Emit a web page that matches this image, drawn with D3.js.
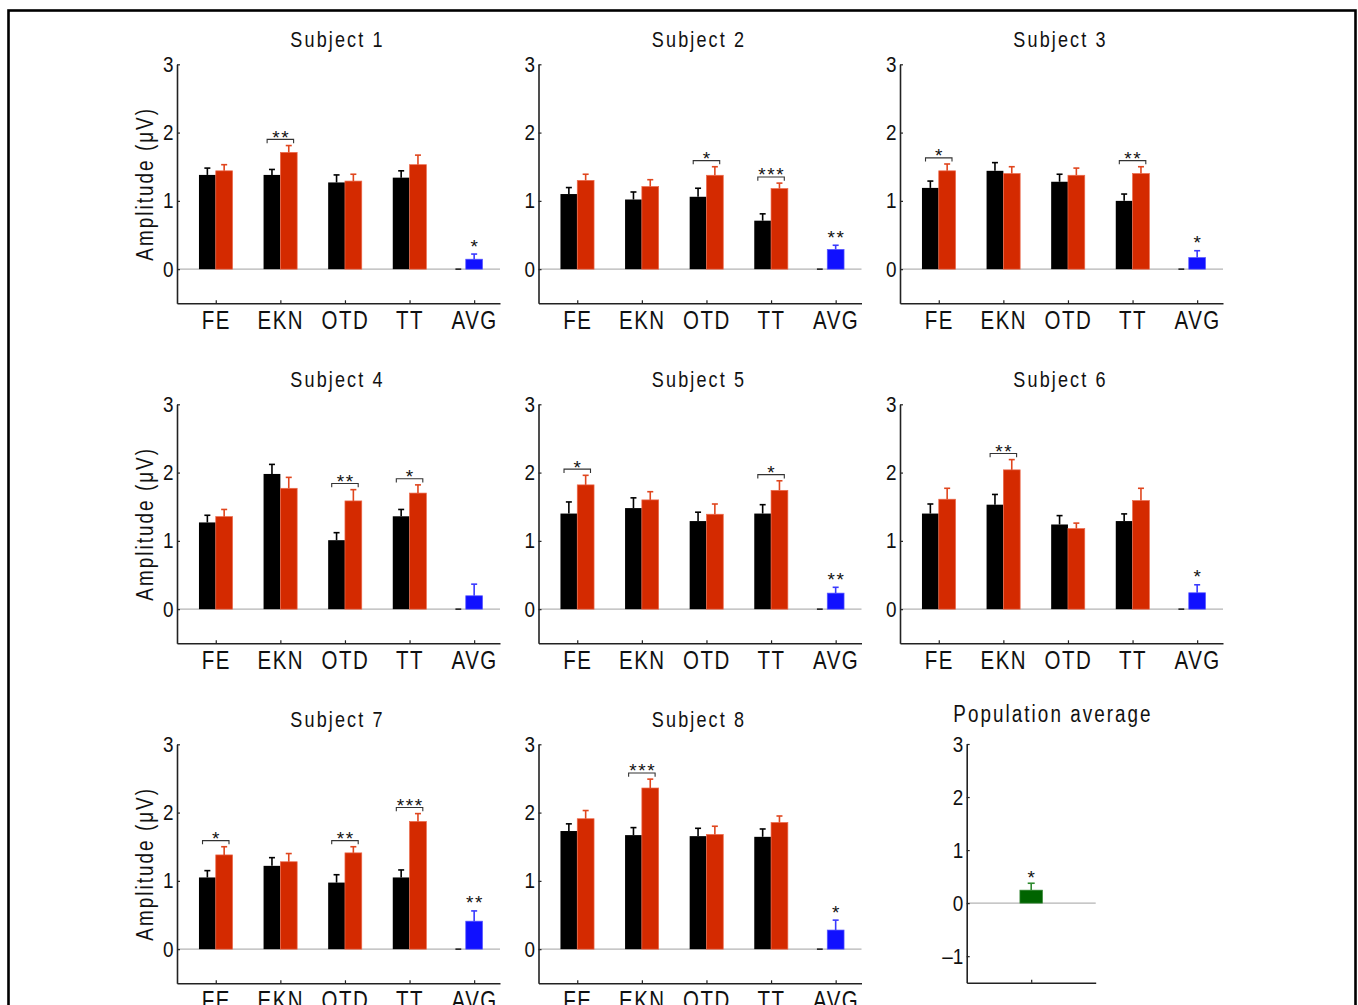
<!DOCTYPE html>
<html>
<head>
<meta charset="utf-8">
<script src="https://cdn.jsdelivr.net/npm/d3@7"></script>
<style>
  html, body { margin: 0; padding: 0; background: #fff; }
  svg { display: block; }
  text { font-family: "Liberation Sans", Arial, sans-serif; fill: #111; }
</style>
</head>
<body>
<svg id="chart" width="1358" height="1005"></svg>
<script>
// ---------------- DATA ----------------
const categories = ["FE", "EKN", "OTD", "TT", "AVG"];
const subjects = ["Subject 1", "Subject 2", "Subject 3", "Subject 4",
                  "Subject 5", "Subject 6", "Subject 7", "Subject 8"];
const yTicks = [0, 1, 2, 3];
const popTicks = [-1, 0, 1, 2, 3];

// condition A (black bars), per subject: FE, EKN, OTD, TT
const condA = [
  [1.38, 1.38, 1.27, 1.34],
  [1.10, 1.02, 1.06, 0.71],
  [1.19, 1.44, 1.28, 1.00],
  [1.27, 1.98, 1.01, 1.36],
  [1.40, 1.48, 1.29, 1.40],
  [1.40, 1.53, 1.24, 1.29],
  [1.05, 1.22, 0.975, 1.05],
  [1.73, 1.67, 1.655, 1.645]
];
const errA = [
  [0.10, 0.08, 0.11, 0.10],
  [0.095, 0.11, 0.125, 0.10],
  [0.10, 0.12, 0.11, 0.10],
  [0.105, 0.14, 0.11, 0.10],
  [0.17, 0.15, 0.13, 0.13],
  [0.14, 0.15, 0.13, 0.105],
  [0.10, 0.12, 0.115, 0.11],
  [0.105, 0.11, 0.115, 0.115]
];
// condition B (red bars)
const condB = [
  [1.44, 1.71, 1.29, 1.53],
  [1.30, 1.21, 1.375, 1.18],
  [1.44, 1.40, 1.375, 1.40],
  [1.355, 1.77, 1.585, 1.70],
  [1.82, 1.60, 1.39, 1.74],
  [1.61, 2.04, 1.18, 1.59],
  [1.38, 1.28, 1.41, 1.87],
  [1.91, 2.36, 1.68, 1.855]
];
const errB = [
  [0.09, 0.10, 0.10, 0.14],
  [0.09, 0.10, 0.125, 0.08],
  [0.10, 0.10, 0.105, 0.10],
  [0.105, 0.16, 0.165, 0.12],
  [0.14, 0.12, 0.15, 0.14],
  [0.16, 0.15, 0.08, 0.18],
  [0.12, 0.12, 0.09, 0.115],
  [0.12, 0.13, 0.12, 0.095]
];
// significance of A vs B per category
const sigAB = [
  ["", "**", "", ""],
  ["", "", "*", "***"],
  ["*", "", "", "**"],
  ["", "", "**", "*"],
  ["*", "", "", "*"],
  ["", "**", "", ""],
  ["*", "", "**", "***"],
  ["", "***", "", ""]
];
// AVG (blue) difference per subject
const avgDiff = [0.146, 0.29, 0.17, 0.196, 0.235, 0.24, 0.41, 0.28];
const avgErr  = [0.075, 0.06, 0.10, 0.17, 0.085, 0.117, 0.15, 0.145];
const avgSig  = ["*", "**", "*", "", "**", "*", "**", "*"];
// population average
const popMean = [0.245];
const popErr = [0.13];
const popSig = ["*"];
const popTitle = "Population average";
const yLabel = "Amplitude (\u03BCV)";

// ---------------- STYLE ----------------
const COL_A = "#000000", COL_B = "#d42a00", COL_AVG = "#1010ff", COL_POP = "#006400";
const ERR_A = "#000000", ERR_B = "#e0461e", ERR_AVG = "#3a3aff", ERR_POP = "#2e8b2e";
const AXIS = "#222";
const SX = 0.82; // horizontal condensation of the lettering

const svg = d3.select("#chart");

// outer frame
svg.append("rect").attr("x", 8.5).attr("y", 10.5).attr("width", 1347).attr("height", 1100)
  .attr("fill", "none").attr("stroke", "#000").attr("stroke-width", 2.6);

const colX = [177, 538.5, 900];
const rowTop = [64.3, 404.3, 744.3];
const PW = 323, PH = 239;

function styleAxis(g) {
  g.select(".domain").attr("stroke", AXIS).attr("stroke-width", 1.6);
  g.selectAll(".tick line").attr("stroke", AXIS).attr("stroke-width", 1.2);
}

function errorBar(g, x, y, cx, v, e, color, capHalf) {
  const px = x(cx);
  g.append("line").attr("x1", px).attr("x2", px).attr("y1", y(v)).attr("y2", y(v + e))
    .attr("stroke", color).attr("stroke-width", 1.6);
  g.append("line").attr("x1", px - capHalf).attr("x2", px + capHalf)
    .attr("y1", y(v + e)).attr("y2", y(v + e))
    .attr("stroke", color).attr("stroke-width", 1.6);
}

function stars(g, px, py, s) {
  // py = visual centre of the asterisks
  g.append("text").attr("x", px + 0.8).attr("y", py + 11)
    .attr("text-anchor", "middle").style("font-size", "19px")
    .style("letter-spacing", "1.6px")
    .text(s);
}

function condText(g, x, y, s, size, spacing, anchor) {
  return g.append("text")
    .attr("transform", `translate(${x},${y}) scale(${SX},1)`)
    .attr("text-anchor", anchor || "middle")
    .style("font-size", size + "px").style("letter-spacing", spacing + "px")
    .text(s);
}

subjects.forEach((name, si) => {
  const x0 = colX[si % 3], top = rowTop[Math.floor(si / 3)];
  const x = d3.scaleLinear().domain([0.4, 5.4]).range([x0, x0 + PW]);
  const y = d3.scaleLinear().domain([-0.5, 3]).range([top + PH, top]);
  const g = svg.append("g");
  const BW = 0.26;

  // zero line
  g.append("line").attr("x1", x(0.4)).attr("x2", x(5.4)).attr("y1", y(0)).attr("y2", y(0))
    .attr("stroke", "#b4b4b4").attr("stroke-width", 1.3);

  const idx = d3.range(4);
  // black bars
  g.selectAll(".barA").data(idx).join("rect")
    .attr("x", i => x(i + 1 - BW)).attr("width", x(BW) - x(0))
    .attr("y", i => y(condA[si][i])).attr("height", i => y(0) - y(condA[si][i]))
    .attr("fill", COL_A);
  // red bars
  g.selectAll(".barB").data(idx).join("rect")
    .attr("x", i => x(i + 1)).attr("width", x(BW) - x(0))
    .attr("y", i => y(condB[si][i])).attr("height", i => y(0) - y(condB[si][i]))
    .attr("fill", COL_B).attr("stroke", "#ec6a4c").attr("stroke-width", 0.7);

  const capHalf = 3;
  idx.forEach(i => {
    errorBar(g, x, y, i + 1 - BW / 2, condA[si][i], errA[si][i], ERR_A, capHalf);
    errorBar(g, x, y, i + 1 + BW / 2, condB[si][i], errB[si][i], ERR_B, capHalf);
    if (sigAB[si][i]) {
      const by = Math.max(condA[si][i] + errA[si][i], condB[si][i] + errB[si][i]) + 0.09;
      const xl = x(i + 1 - 0.205), xr = x(i + 1 + 0.205);
      const yb = y(by), yt = y(by - 0.055);
      g.append("path").attr("d", `M${xl},${yt}V${yb}H${xr}V${yt}`)
        .attr("fill", "none").attr("stroke", "#333").attr("stroke-width", 1.1);
      stars(g, x(i + 1), yb - 6.5, sigAB[si][i]);
    }
  });

  // AVG column: zero black bar and blue difference bar
  g.append("line").attr("x1", x(5 - 0.29)).attr("x2", x(5 - 0.2)).attr("y1", y(0)).attr("y2", y(0))
    .attr("stroke", "#222").attr("stroke-width", 1.6);
  g.append("rect").attr("x", x(5 - BW / 2)).attr("width", x(BW) - x(0))
    .attr("y", y(avgDiff[si])).attr("height", y(0) - y(avgDiff[si]))
    .attr("fill", COL_AVG).attr("stroke", "#5a5aff").attr("stroke-width", 0.7);
  errorBar(g, x, y, 5, avgDiff[si], avgErr[si], ERR_AVG, capHalf);
  if (avgSig[si]) stars(g, x(5), y(avgDiff[si] + avgErr[si]) - 12.5, avgSig[si]);

  // axes
  const ya = g.append("g").attr("transform", `translate(${x0},0)`)
    .call(d3.axisLeft(y).tickValues(yTicks).tickFormat(d3.format("d"))
      .tickSize(-3).tickSizeOuter(0).tickPadding(4));
  styleAxis(ya);
  ya.selectAll(".tick text").style("font-size", "22px").attr("fill", "#111")
    .attr("transform", "scale(0.86,1)");

  const xa = g.append("g").attr("transform", `translate(0,${y(-0.5)})`)
    .call(d3.axisBottom(x).tickValues([1, 2, 3, 4, 5]).tickFormat(d => categories[d - 1])
      .tickSize(-3).tickSizeOuter(0).tickPadding(8));
  styleAxis(xa);
  xa.selectAll(".tick text").style("font-size", "25px").style("letter-spacing", "1.8px")
    .attr("fill", "#111").attr("transform", `scale(${SX},1)`);

  // title
  condText(g, x0 + PW / 2 - 1, top - 17.6, name, 22, 2.6);

  // y label on first column
  if (si % 3 === 0) {
    g.append("text")
      .attr("transform", `translate(${x0 - 24},${y(1.25)}) rotate(-90) scale(${SX},1)`)
      .attr("text-anchor", "middle").style("font-size", "23px").style("letter-spacing", "2.5px")
      .text(yLabel);
  }
});

// ---------------- population average panel ----------------
{
  const px0 = 966.7, px1 = 1095.7;
  const x = d3.scaleLinear().domain([0, 2]).range([px0, px1]);
  const y = d3.scaleLinear().domain([-1.5, 3]).range([982.7, 744]);
  const g = svg.append("g");
  g.append("line").attr("x1", x(0)).attr("x2", x(2)).attr("y1", y(0)).attr("y2", y(0))
    .attr("stroke", "#b4b4b4").attr("stroke-width", 1.3);
  const BW = 0.35;
  g.selectAll(".pop").data(popMean).join("rect")
    .attr("x", x(1 - BW / 2)).attr("width", x(BW) - x(0))
    .attr("y", d => y(d)).attr("height", d => y(0) - y(d))
    .attr("fill", COL_POP).attr("stroke", "#3a8a3a").attr("stroke-width", 0.7);
  errorBar(g, x, y, 1, popMean[0], popErr[0], ERR_POP, 3.5);
  stars(g, x(1), y(popMean[0] + popErr[0]) - 10, popSig[0]);

  const ya = g.append("g").attr("transform", `translate(${px0},0)`)
    .call(d3.axisLeft(y).tickValues(popTicks).tickSize(-3).tickSizeOuter(0).tickPadding(4)
      .tickFormat(d => d < 0 ? "\u2013" + Math.abs(d) : String(d)));
  styleAxis(ya);
  ya.selectAll(".tick text").style("font-size", "22px").attr("fill", "#111")
    .attr("transform", "scale(0.86,1)");

  const xa = g.append("g").attr("transform", `translate(0,${y(-1.5)})`)
    .call(d3.axisBottom(x).tickValues([1]).tickFormat(() => "").tickSize(-3).tickSizeOuter(0));
  styleAxis(xa);

  condText(g, 1053, 721.5, popTitle, 23, 2.5);
}
</script>
</body>
</html>
